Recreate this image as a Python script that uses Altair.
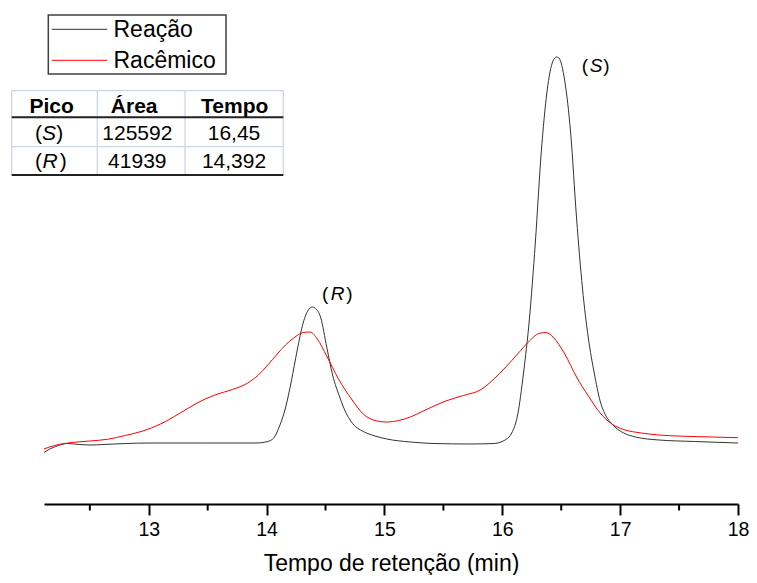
import altair as alt
import pandas as pd

# ---------------- data ----------------
series_names = ["Reação", "Racêmico"]
series_colors = ["#333333", "#ff0000"]

reacao_t = [12.11, 12.16, 12.21, 12.31, 12.41, 12.51, 12.61, 12.81, 13.0, 13.5, 13.91, 14.01, 14.06, 14.11,
            14.16, 14.21, 14.26, 14.31, 14.36, 14.39, 14.41, 14.46, 14.51, 14.56, 14.62, 14.67, 14.72,
            14.77, 14.82, 14.92, 15.02, 15.22, 15.42, 15.72, 15.93, 16.03, 16.08, 16.13, 16.18, 16.23, 16.28,
            16.33, 16.38, 16.43, 16.46, 16.48, 16.53, 16.58, 16.63, 16.68, 16.73, 16.78, 16.83, 16.88,
            16.93, 17.03, 17.13, 17.33, 17.63, 18.0]
reacao_i = [-9.5, -6, -3.5, -0.5, -1.5, -2, -1.5, -0.5, 0, 0, 0, 1.5, 5, 17,
            35, 62, 93, 120, 134, 136, 135, 125, 96, 68, 46, 31, 21,
            15, 11.5, 7, 4, 1, -0.5, -1, -0.5, 3.5, 10, 28, 70, 124, 200,
            290, 352, 382, 386, 385, 362, 310, 225, 155, 105, 70, 42, 27,
            19, 10, 6, 3, 1.5, 0]

racemico_t = [12.11, 12.2, 12.35, 12.5, 12.65, 12.8, 12.95, 13.1, 13.26, 13.41, 13.56, 13.71, 13.84,
              13.93, 14.01, 14.09, 14.16, 14.23, 14.31, 14.37, 14.43, 14.51, 14.61, 14.72, 14.82, 14.92,
              15.02, 15.12, 15.22, 15.32, 15.42, 15.52, 15.67, 15.82, 15.92, 16.03, 16.13, 16.23, 16.31,
              16.37, 16.43, 16.53, 16.63, 16.73, 16.83, 16.93, 17.03, 17.18, 17.33, 17.53, 17.78, 18.0]
racemico_i = [-6, -2.5, 0.5, 2, 3.7, 7.5, 12, 19, 29.5, 40, 48, 53.5, 60,
              68, 78, 89, 98, 105, 110.5, 111, 104, 87, 64, 44, 29, 22.5,
              21, 22.5, 26, 31.5, 37, 42, 47.5, 53.5, 63, 76, 89, 102, 109.5,
              110.5, 106, 89, 66, 47, 30, 19, 13.5, 10, 8, 6.8, 6, 5.3]

x_major = [13, 14, 15, 16, 17, 18]
x_minor = [12.5, 13.5, 14.5, 15.5, 16.5, 17.5]
x_domain = [12.111, 18.0]
y_domain = [-61, 433]
x_title = "Tempo de retenção (min)"

table_header = ["Pico", "Área", "Tempo"]
table_peak = ["S", "R"]
table_area = ["125592", "41939"]
table_time = ["16,45", "14,392"]

ann_letter = ["R", "S"]
ann_time = [14.392, 16.45]
ann_height = [136, 386]

# ---------------- layout ----------------
W, H = 694, 494
FONT = "Liberation Sans"

curves = pd.concat([
    pd.DataFrame({"serie": series_names[0], "t": reacao_t, "I": reacao_i}),
    pd.DataFrame({"serie": series_names[1], "t": racemico_t, "I": racemico_i}),
], ignore_index=True)

xscale = alt.Scale(domain=x_domain, nice=False, zero=False)
yscale = alt.Scale(domain=y_domain, nice=False, zero=False)

lines = alt.Chart(curves).mark_line(strokeWidth=1, clip=True, interpolate="monotone").encode(
    x=alt.X("t:Q", scale=xscale, axis=alt.Axis(
        values=x_major, title=x_title, grid=False, format="d",
        domainColor="black", domainWidth=2, tickColor="black", tickWidth=2, tickSize=11,
        labelFont=FONT, labelFontSize=19.5, labelColor="black", labelPadding=5, labelFlush=False,
        titleFont=FONT, titleFontSize=23, titleFontWeight="normal", titleColor="black",
        titleBaseline="alphabetic", titleY=66)),
    y=alt.Y("I:Q", scale=yscale, axis=None),
    color=alt.Color("serie:N", scale=alt.Scale(domain=series_names, range=series_colors), legend=None),
)

minor = alt.Chart(pd.DataFrame({"t": x_minor})).mark_rule(color="black", strokeWidth=2).encode(
    x=alt.X("t:Q", scale=xscale), y=alt.value(H), y2=alt.value(H + 6.5))


def one():
    return alt.Chart(pd.DataFrame({"k": [0]}))


def hline(x1, x2, y, color, w):
    return one().mark_rule(color=color, strokeWidth=w).encode(
        x=alt.value(x1), x2=alt.value(x2), y=alt.value(y))


def vline(x, y1, y2, color, w):
    return one().mark_rule(color=color, strokeWidth=w).encode(
        x=alt.value(x), y=alt.value(y1), y2=alt.value(y2))


def txt(s, x, y, size, align="center", weight="normal", style="normal", color="black"):
    return one().mark_text(text=s, font=FONT, fontSize=size, align=align, baseline="alphabetic",
                           fontWeight=weight, fontStyle=style, color=color).encode(
        x=alt.value(x), y=alt.value(y))


layers = [lines, minor]

# legend box
layers.append(one().mark_rect(fill="white", stroke="#404040", strokeWidth=1.5).encode(
    x=alt.value(4.3), x2=alt.value(182), y=alt.value(5), y2=alt.value(64)))
leg_rows = [19.3, 50.3]
leg_base = [27.3, 58.3]
for name, col, ry, by in zip(series_names, series_colors, leg_rows, leg_base):
    layers.append(hline(7.7, 63.3, ry, col, 1))
    layers.append(txt(name, 69.5, by, 23, align="left"))

# table
TL, TC1, TC2, TR = -32.3, 53.3, 141, 239.3
TT, THB, TRS, TB = 80.7, 107.3, 136.7, 165
light = "#cdd5e3"
layers += [
    hline(TL, TR, TT, light, 1.3),
    hline(TL, TR, TRS, light, 1.3),
    vline(TL, TT, TB, light, 1.3),
    vline(TC1, TT, TB, light, 1.3),
    vline(TC2, TT, TB, light, 1.3),
    vline(TR, TT, TB, light, 1.3),
    hline(TL, TR, THB, "#222222", 2),
    hline(TL, TR, TB, "#222222", 2),
]
for s, cx in zip(table_header, [7.7, 90.2, 190.7]):
    layers.append(txt(s, cx, 103.3, 21, weight="bold"))
row_base = [130, 158.3]
letter_cx = [5, 6]
close_rx = [19.3, 22.7]
for p, a, tm, by, lc, rx in zip(table_peak, table_area, table_time, row_base, letter_cx, close_rx):
    layers.append(txt("(", -9, by, 21, align="left"))
    layers.append(txt(p, lc, by, 21, style="italic"))
    layers.append(txt(")", rx, by, 21, align="right"))
    layers.append(txt(a, 93.3, by, 21))
    layers.append(txt(tm, 190, by, 21))

# peak annotations
ann_offsets = {"R": (9.1, 24.7, 39.7, -7), "S": (26.5, 40.7, 54.2, 14.7)}
for letter, t, h in zip(ann_letter, ann_time, ann_height):
    d = pd.DataFrame({"t": [t], "I": [h]})
    lx, cx, rx, dy = ann_offsets[letter]
    for s, dx, al, st in [("(", lx, "left", "normal"), (letter, cx, "center", "italic"),
                          (")", rx, "right", "normal")]:
        layers.append(alt.Chart(d).mark_text(
            text=s, font=FONT, fontSize=19, align=al, baseline="alphabetic", fontStyle=st,
            color="black", dx=dx, dy=dy).encode(
            x=alt.X("t:Q", scale=xscale), y=alt.Y("I:Q", scale=yscale)))

chart = alt.layer(*layers).properties(
    width=W, height=H,
    padding={"left": 36, "top": 2, "right": 11, "bottom": 71},
    autosize=alt.AutoSizeParams(type="none"),
    background="white",
).configure_view(stroke=None)

chart.save("out.html", embed_options={"renderer": "svg", "actions": False})
